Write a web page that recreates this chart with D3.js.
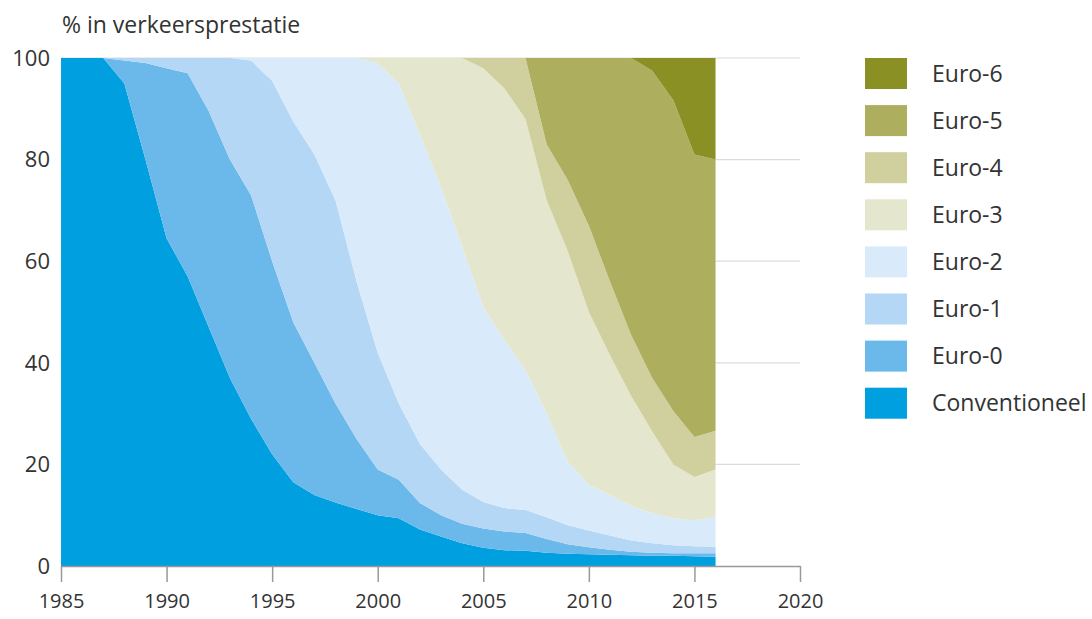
<!DOCTYPE html>
<html>
<head>
<meta charset="utf-8">
<script src="https://cdn.jsdelivr.net/npm/d3@7"></script>
<style>
  body { margin: 0; background: #fff; }
  text { font-family: 'Open Sans', sans-serif; fill: #333; }
</style>
</head>
<body>
<div id="chart"></div>
<script>
const years = d3.range(1985, 2017)

// Share per emission class, % of vehicle kilometres
const conventioneel = [100, 100, 100, 95, 80, 64.5, 57, 47, 37, 29, 22, 16.5, 14, 12.5, 11.2, 10, 9.4, 7.2, 5.8, 4.5, 3.6, 3.1, 3.0, 2.6, 2.4, 2.3, 2.2, 2.1, 2.0, 2.0, 1.9, 1.8]
const euro0 = [0, 0, 0, 4.5, 19, 33.5, 40, 42.5, 43, 44, 38, 31.5, 26, 19.5, 13.8, 9, 7.6, 5.2, 4.2, 3.8, 3.8, 3.7, 3.5, 2.7, 1.9, 1.4, 1.0, 0.7, 0.6, 0.5, 0.6, 0.7]
const euro1 = [0, 0, 0, 0.5, 1, 2, 3, 10.5, 20, 26.5, 35.5, 39.5, 41, 40, 31, 23, 15, 11.6, 9, 6.7, 5.2, 4.6, 4.5, 4.3, 3.7, 3.3, 2.8, 2.2, 1.9, 1.6, 1.4, 1.3]
const euro2 = [0, 0, 0, 0, 0, 0, 0, 0, 0, 0.5, 4.5, 12.5, 19, 28, 44, 57, 63, 61, 55.4, 48, 38.4, 33.1, 27.6, 20.4, 12.5, 9, 8, 6.8, 5.9, 5.3, 5.1, 5.8]
const euro3 = [0, 0, 0, 0, 0, 0, 0, 0, 0, 0, 0, 0, 0, 0, 0, 1, 5, 15, 25.6, 37, 47, 49.5, 49.4, 42, 41.5, 34, 27.5, 21.7, 16.1, 10.6, 8.5, 9.4]
const euro4 = [0, 0, 0, 0, 0, 0, 0, 0, 0, 0, 0, 0, 0, 0, 0, 0, 0, 0, 0, 0, 2, 6, 12, 11, 14, 17, 14.5, 12, 10.5, 10.5, 7.9, 7.6]
const euro5 = [0, 0, 0, 0, 0, 0, 0, 0, 0, 0, 0, 0, 0, 0, 0, 0, 0, 0, 0, 0, 0, 0, 0, 17, 24, 33, 44, 54.5, 60.5, 61.2, 55.6, 53.4]
const euro6 = [0, 0, 0, 0, 0, 0, 0, 0, 0, 0, 0, 0, 0, 0, 0, 0, 0, 0, 0, 0, 0, 0, 0, 0, 0, 0, 0, 0, 2.5, 8.3, 19, 20]

const keys = ['Conventioneel', 'Euro-0', 'Euro-1', 'Euro-2', 'Euro-3', 'Euro-4', 'Euro-5', 'Euro-6']
const series = [conventioneel, euro0, euro1, euro2, euro3, euro4, euro5, euro6]
const colors = ['#009fe0', '#6bb8ea', '#b3d7f4', '#d9eafa', '#e5e6ce', '#cfd09e', '#adae5e', '#8b9024']

const xTicks = d3.range(1985, 2021, 5)
const yTicks = [0, 20, 40, 60, 80, 100]

const rows = years.map((y, i) => {
  const r = { year: y }
  keys.forEach((k, j) => { r[k] = series[j][i] })
  return r
})

const width = 1092
const height = 619
const margin = { top: 58, left: 61, right: 292, bottom: 53 }

const svg = d3.select('#chart')
  .append('svg')
  .attr('width', width)
  .attr('height', height)

const x = d3.scaleLinear()
  .domain([1985, 2020])
  .range([margin.left, width - margin.right])

const y = d3.scaleLinear()
  .domain([0, 100])
  .range([height - margin.bottom, margin.top])

// Gridlines
svg.append('g')
  .selectAll('line')
  .data(yTicks.slice(1))
  .enter()
  .append('line')
  .attr('x1', x(1985))
  .attr('x2', x(2020))
  .attr('y1', d => y(d))
  .attr('y2', d => y(d))
  .attr('stroke', '#dcdcdc')
  .attr('stroke-width', 1.2)

const stack = d3.stack().keys(keys)
const area = d3.area()
  .x(d => x(d.data.year))
  .y0(d => y(d[0]))
  .y1(d => y(d[1]))

svg.append('g')
  .selectAll('path')
  .data(stack(rows))
  .enter()
  .append('path')
  .attr('d', area)
  .attr('fill', (d, i) => colors[i])

// Y labels
svg.append('g')
  .selectAll('text')
  .data(yTicks)
  .enter()
  .append('text')
  .attr('x', 50)
  .attr('y', d => y(d))
  .attr('dy', '0.35em')
  .attr('text-anchor', 'end')
  .attr('font-size', 22)
  .text(d => d)

// X axis
const xAxis = svg.append('g')
  .attr('transform', `translate(0, ${y(0)})`)
  .call(d3.axisBottom(x).tickValues(xTicks).tickFormat(d3.format('d')).tickSize(16).tickSizeOuter(0))

xAxis.select('.domain').attr('stroke', '#999').attr('stroke-width', 1.5)
xAxis.selectAll('.tick line').attr('stroke', '#999').attr('stroke-width', 1.5)
xAxis.selectAll('.tick text')
  .attr('font-size', 20)
  .attr('font-family', "'Open Sans', sans-serif")
  .attr('fill', '#333')
  .attr('dy', '1.15em')

// Title
svg.append('text')
  .attr('x', 62)
  .attr('y', 33)
  .attr('font-size', 23)
  .text('% in verkeersprestatie')

// Legend
const legend = svg.append('g')
  .selectAll('g')
  .data(keys.slice().reverse())
  .enter()
  .append('g')
  .attr('transform', (d, i) => `translate(865, ${58 + i * 47.1})`)

legend.append('rect')
  .attr('width', 42)
  .attr('height', 31)
  .attr('fill', d => colors[keys.indexOf(d)])

legend.append('text')
  .attr('x', 67)
  .attr('y', 15.5)
  .attr('dy', '0.35em')
  .attr('font-size', 23)
  .text(d => d)
</script>
</body>
</html>
